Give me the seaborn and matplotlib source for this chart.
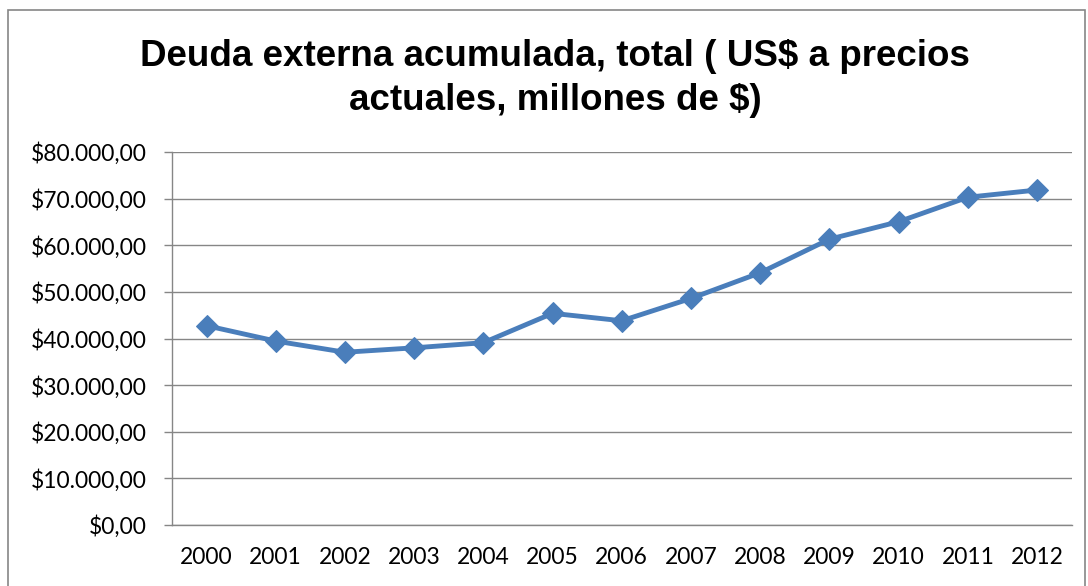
import matplotlib
matplotlib.use("Agg")
import matplotlib.pyplot as plt
import matplotlib.patches as mpatches
import seaborn as sns
import pandas as pd

years = ["2000", "2001", "2002", "2003", "2004", "2005", "2006",
         "2007", "2008", "2009", "2010", "2011", "2012"]
deuda = [42750, 39450, 37050, 38000, 39100, 45400, 43800,
         48600, 54100, 61300, 65050, 70300, 71850]
y_ticks = [0, 10000, 20000, 30000, 40000, 50000, 60000, 70000, 80000]
y_labels = ["$0,00", "$10.000,00", "$20.000,00", "$30.000,00", "$40.000,00",
            "$50.000,00", "$60.000,00", "$70.000,00", "$80.000,00"]
title = "Deuda externa acumulada, total ( US$ a precios\nactuales, millones de $)"

df = pd.DataFrame({"pos": range(len(years)), "year": years, "deuda": deuda})

sns.set_style("white")
plt.rcParams["font.family"] = ["Lato", "DejaVu Sans"]
plt.rcParams["text.color"] = "black"
plt.rcParams["xtick.labelcolor"] = "black"
plt.rcParams["ytick.labelcolor"] = "black"

fig = plt.figure(figsize=(10.88, 5.86), dpi=100)
ax = fig.add_axes([0.158, 0.1041, 0.827, 0.6365])

sns.lineplot(data=df, x="pos", y="deuda", ax=ax, color="#4A7EBB",
             linewidth=3.5, marker="D", markersize=11,
             markeredgecolor="#4A7EBB")

ax.set_xlim(-0.5, len(years) - 0.5)
ax.set_ylim(0, 80000)
ax.set_yticks(y_ticks)
ax.set_yticklabels(y_labels, fontsize=16.5)
ax.set_xticks(range(len(years)))
ax.set_xticklabels(years, fontsize=16.5)
ax.set_xticks([i - 0.5 for i in range(len(years) + 1)], minor=True)
ax.tick_params(axis="x", which="major", length=0, pad=16)
ax.tick_params(axis="x", which="minor", length=6, color="#868686", width=1)
ax.tick_params(axis="y", length=6, color="#868686", width=1, pad=12, left=True)
ax.set_xlabel("")
ax.set_ylabel("")
ax.grid(axis="y", color="#868686", linewidth=1)
ax.set_axisbelow(True)
for s in ["top", "right"]:
    ax.spines[s].set_visible(False)
for s in ["left", "bottom"]:
    ax.spines[s].set_color("#868686")
    ax.spines[s].set_linewidth(1)

fig.text(0.51, 0.866, title, ha="center", va="center", fontsize=26.5,
         fontweight="bold", family=["Liberation Sans", "DejaVu Sans"],
         linespacing=1.3)

fig.patches.append(mpatches.Rectangle((8 / 1088, -0.05), 1077 / 1088, 1.05 - 10 / 586,
                                      transform=fig.transFigure, fill=False,
                                      edgecolor="#868686", linewidth=1.2))

plt.savefig("out.png", dpi=100)
